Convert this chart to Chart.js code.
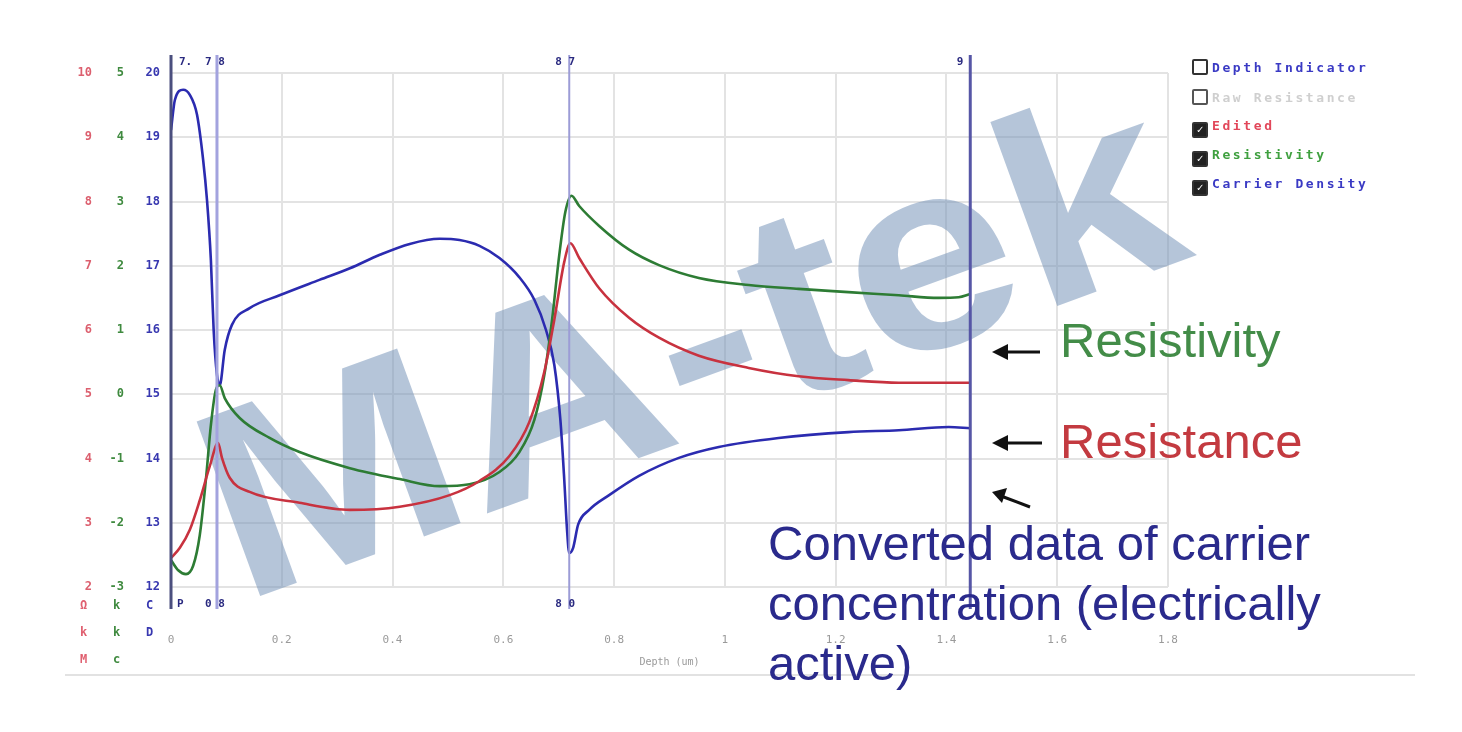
<!DOCTYPE html>
<html><head><meta charset="utf-8">
<script src="https://cdn.jsdelivr.net/npm/chart.js@4.4.1/dist/chart.umd.min.js"></script>
<style>
html,body{margin:0;padding:0;background:#fff;}
#wrap{position:relative;width:1462px;height:732px;overflow:hidden;background:#fff;}
#c{position:absolute;left:0;top:0;}
.ann{position:absolute;font-family:"Liberation Sans",Arial,sans-serif;white-space:nowrap;font-size:49px;line-height:1;}
.lg{position:absolute;left:1192px;height:16px;font-family:"DejaVu Sans Mono",monospace;font-weight:bold;font-size:13px;letter-spacing:2.6px;line-height:16px;white-space:nowrap;}
.box{display:inline-block;width:12px;height:12px;border:2px solid #333;border-radius:2px;vertical-align:-3px;margin-right:4px;background:#fff;color:#fff;font-size:11px;line-height:12px;text-align:center;letter-spacing:0;}
.box.on{background:#222;}
.unit{position:absolute;font-family:"DejaVu Sans Mono",monospace;font-weight:bold;font-size:12px;}
#rule{position:absolute;left:65px;top:674px;width:1350px;height:2px;background:#e2e2e2;}
</style></head><body>
<div id="wrap">
<canvas id="c" width="1462" height="732"></canvas>
<div id="rule"></div>

<div class="lg" style="top:59px;color:#3a3ac4"><span class="box"></span>Depth Indicator</div>
<div class="lg" style="top:89px;color:#cfcfcf"><span class="box" style="border-color:#555"></span>Raw Resistance</div>
<div class="lg" style="top:118px;color:#e2475a"><span class="box on">✓</span>Edited</div>
<div class="lg" style="top:147px;color:#3fa03f"><span class="box on">✓</span>Resistivity</div>
<div class="lg" style="top:176px;color:#3a3ac4"><span class="box on">✓</span>Carrier Density</div>

<div class="unit" style="left:80px;top:598px;color:#e06070">Ω</div>
<div class="unit" style="left:113px;top:598px;color:#3f8a3f">k</div>
<div class="unit" style="left:146px;top:598px;color:#3838b0">C</div>
<div class="unit" style="left:80px;top:625px;color:#e06070">k</div>
<div class="unit" style="left:113px;top:625px;color:#3f8a3f">k</div>
<div class="unit" style="left:146px;top:625px;color:#3838b0">D</div>
<div class="unit" style="left:80px;top:652px;color:#e06070">M</div>
<div class="unit" style="left:113px;top:652px;color:#3f8a3f">c</div>

<svg style="position:absolute;left:0;top:0" width="1462" height="732">
  <g stroke="#111" stroke-width="3" fill="#111">
    <line x1="1002" y1="352" x2="1040" y2="352"/>
    <polygon points="992,352 1008,344 1008,360" stroke="none"/>
    <line x1="1002" y1="443" x2="1042" y2="443"/>
    <polygon points="992,443 1008,435 1008,451" stroke="none"/>
    <line x1="1001" y1="496" x2="1030" y2="507"/>
    <polygon points="992,492 1007,488 1002,503" stroke="none"/>
  </g>
</svg>

<div class="ann" style="left:1060px;top:316px;color:#438c48">Resistivity</div>
<div class="ann" style="left:1060px;top:417px;color:#c33a40">Resistance</div>
<div class="ann" style="left:768px;top:513px;line-height:60px;color:#2a2a8c">Converted data of carrier<br>concentration (electrically<br>active)</div>
</div>
<script>
// x axis: depth (um)
const depthTicks = [0, 0.2, 0.4, 0.6, 0.8, 1, 1.2, 1.4, 1.6, 1.8];

// Carrier density (blue axis, 12..20)
const carrierDepth = [0,0.007,0.022,0.034,0.047,0.058,0.065,0.072,0.077,0.083,0.088,0.097,0.110,0.142,0.196,0.268,0.323,0.377,0.431,0.485,0.521,0.557,0.593,0.629,0.656,0.677,0.692,0.703,0.710,0.715,0.719,0.726,0.735,0.755,0.791,0.845,0.917,0.989,1.097,1.223,1.314,1.404,1.443];
const carrierValues = [19.11,19.58,19.74,19.66,19.35,18.65,18.02,17.09,16.00,15.30,15.14,15.69,16.08,16.34,16.54,16.78,16.96,17.17,17.34,17.42,17.40,17.31,17.12,16.82,16.47,16.00,15.46,14.60,13.67,12.89,12.53,12.61,12.97,13.20,13.43,13.73,14.01,14.18,14.32,14.41,14.44,14.49,14.47];

// Resistivity (green axis, -3..5)
const resistivityDepth = [0,0.013,0.027,0.040,0.052,0.063,0.072,0.081,0.088,0.097,0.124,0.178,0.232,0.323,0.413,0.485,0.539,0.593,0.629,0.656,0.674,0.688,0.701,0.712,0.723,0.737,0.773,0.827,0.881,0.953,1.043,1.133,1.223,1.314,1.386,1.422,1.443];
const resistivityValues = [-2.58,-2.74,-2.80,-2.67,-2.19,-1.33,-0.48,0.07,0.14,-0.06,-0.37,-0.68,-0.90,-1.15,-1.32,-1.43,-1.40,-1.21,-0.90,-0.40,0.30,1.16,2.17,2.84,3.09,2.93,2.62,2.25,2.01,1.81,1.70,1.64,1.59,1.54,1.50,1.51,1.56];

// Edited resistance (red axis, 2..10)
const editedDepth = [0,0.016,0.034,0.052,0.070,0.085,0.092,0.106,0.142,0.232,0.323,0.413,0.503,0.557,0.611,0.647,0.674,0.692,0.710,0.721,0.737,0.773,0.827,0.881,0.953,1.043,1.133,1.223,1.314,1.443];
const editedValues = [2.45,2.61,2.89,3.35,3.88,4.24,4.01,3.70,3.48,3.31,3.20,3.25,3.43,3.65,4.04,4.57,5.35,6.16,7.06,7.35,7.12,6.65,6.19,5.88,5.60,5.41,5.28,5.22,5.18,5.18];

// Depth indicator markers
const markerDepths = [0, 0.083, 0.719, 1.443];
const markerTopLabels = ['7.', '7 8', '8 7', '9'];
const markerBottomLabels = ['P', '0 8', '8 0', ''];

const pts = (xs, ys) => xs.map((d, i) => ({x: d, y: ys[i]}));

const markerStyle = [
  {color:'#4b4f7e', w:3, top:{dx:8, align:'left'}, bot:{dx:6, align:'left'}},
  {color:'#a3a3de', w:3, top:{dx:-2, align:'center'}, bot:{dx:-2, align:'center'}},
  {color:'#9c9cd6', w:2, top:{dx:-4, align:'center'}, bot:{dx:-4, align:'center'}},
  {color:'#5656a6', w:3, top:{dx:-7, align:'right'}, bot:{dx:-7, align:'right'}}
];

const overlay = {
  id: 'overlay',
  beforeDatasetsDraw(chart) {
    const ctx = chart.ctx;
    ctx.save();
    ctx.translate(241, 603);
    ctx.rotate(-20 * Math.PI / 180);
    ctx.scale(1.13, 1);
    ctx.font = 'bold 270px "Liberation Sans", Arial, sans-serif';
    ctx.fillStyle = 'rgba(120,150,185,0.55)';
    ctx.fillText('MA-tek', 0, 0);
    ctx.restore();
  },
  afterDatasetsDraw(chart) {
    const ctx = chart.ctx, xs = chart.scales.x, area = chart.chartArea;
    ctx.save();
    markerDepths.forEach((d, i) => {
      const px = xs.getPixelForValue(d), st = markerStyle[i];
      ctx.strokeStyle = st.color; ctx.lineWidth = st.w;
      ctx.beginPath(); ctx.moveTo(px, area.top - 18); ctx.lineTo(px, area.bottom + 22); ctx.stroke();
      ctx.fillStyle = '#2a2a80';
      ctx.font = 'bold 11px "DejaVu Sans Mono", monospace';
      ctx.textBaseline = 'middle';
      ctx.textAlign = st.top.align;
      ctx.fillText(markerTopLabels[i], px + st.top.dx, area.top - 11);
      ctx.textAlign = st.bot.align;
      ctx.fillText(markerBottomLabels[i], px + st.bot.dx, area.bottom + 17);
    });
    ctx.restore();
  }
};

const tickFont = {family: '"DejaVu Sans Mono", monospace', size: 12, weight: 'bold'};

new Chart(document.getElementById('c'), {
  type: 'line',
  data: {
    datasets: [
      {label: 'Edited', data: pts(editedDepth, editedValues), yAxisID: 'yR', borderColor: '#c8323f'},
      {label: 'Resistivity', data: pts(resistivityDepth, resistivityValues), yAxisID: 'yG', borderColor: '#2d7c34'},
      {label: 'Carrier Density', data: pts(carrierDepth, carrierValues), yAxisID: 'yB', borderColor: '#2b2bb0'}
    ]
  },
  options: {
    responsive: false, animation: false, devicePixelRatio: 1,
    layout: {padding: {left: 65, right: 294, top: 73, bottom: 55}},
    plugins: {legend: {display: false}, tooltip: {enabled: false}},
    elements: {point: {radius: 0}, line: {borderWidth: 2.6, cubicInterpolationMode: 'monotone'}},
    scales: {
      x: {
        type: 'linear', min: 0, max: 1.8,
        afterBuildTicks(s) { s.ticks = depthTicks.map(v => ({value: v})); },
        ticks: {padding: 47, color: '#9a9a9a', font: {family: '"DejaVu Sans Mono", monospace', size: 11}, maxRotation: 0, autoSkip: false,
                callback: v => String(Math.round(v * 10) / 10)},
        grid: {color: '#e3e3e3', lineWidth: 2, drawTicks: false},
        border: {display: false},
        title: {display: true, text: 'Depth (um)', color: '#9a9a9a', font: {family: '"DejaVu Sans Mono", monospace', size: 10}, padding: {top: 0, bottom: 9}},
        afterFit(s) { s.height = 90; }
      },
      yR: {
        position: 'left', weight: 3, min: 2, max: 10,
        ticks: {stepSize: 1, padding: 8, color: '#dc5f6e', font: tickFont},
        grid: {display: false, drawTicks: false}, border: {display: false},
        afterFit(s) { s.width = 35; }
      },
      yG: {
        position: 'left', weight: 2, min: -3, max: 5,
        ticks: {stepSize: 1, padding: 11, color: '#3f8a3f', font: tickFont},
        grid: {display: false, drawTicks: false}, border: {display: false},
        afterFit(s) { s.width = 35; }
      },
      yB: {
        position: 'left', weight: 1, min: 12, max: 20,
        ticks: {stepSize: 1, padding: 11, color: '#3838b0', font: tickFont},
        grid: {color: '#e3e3e3', lineWidth: 2, drawTicks: false}, border: {display: false},
        afterFit(s) { s.width = 36; }
      }
    }
  },
  plugins: [overlay]
});
</script>
</body></html>
